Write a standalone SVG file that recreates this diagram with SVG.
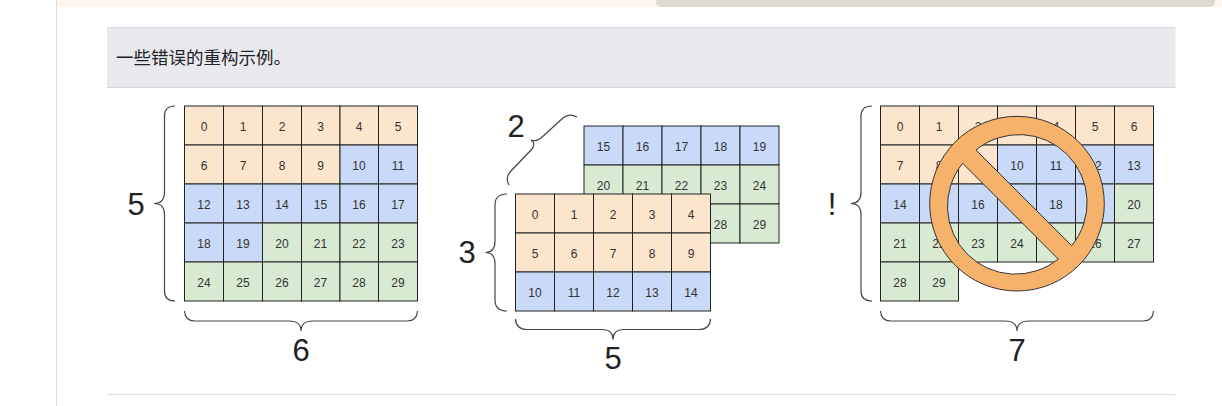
<svg xmlns="http://www.w3.org/2000/svg" width="1222" height="406" viewBox="0 0 1222 406">
<style>
.o{fill:#fce5cd}.b{fill:#c9daf8}.g{fill:#d9ead3}
rect.o,rect.b,rect.g{stroke:#222;stroke-width:1}
.n{font-family:"Liberation Sans",Arial,sans-serif;font-size:12px;fill:#333;text-anchor:middle}
.d{font-family:"Liberation Sans",Arial,sans-serif;font-size:31px;fill:#222;text-anchor:middle}
.br{fill:none;stroke:#444;stroke-width:1.2}
</style>
<rect width="1222" height="406" fill="#fff"/>
<g id="page">
<rect x="57" y="0" width="1165" height="7" fill="#fff5ec"/>
<rect x="656" y="-6" width="559" height="13" rx="5" fill="#dedad2"/>
<line x1="56.5" y1="0" x2="56.5" y2="406" stroke="#dcdcdc"/>
<rect x="107" y="27" width="1068.500" height="61" fill="#e8e9ed"/>
<line x1="107" y1="27.500" x2="1175.500" y2="27.500" stroke="#dcdde2"/>
<line x1="107" y1="87.500" x2="1175.500" y2="87.500" stroke="#d6d7dc"/>
<line x1="107" y1="394.500" x2="1175.500" y2="394.500" stroke="#dedede"/>
<text x="116" y="63.500" font-size="17.500" fill="#1f2329" font-family="'Noto Sans CJK SC',sans-serif">一些错误的重构示例。</text>
</g>
<g id="grid-5x6">
<rect class="o" x="184.500" y="106" width="39" height="39"/><rect class="o" x="223.500" y="106" width="39" height="39"/><rect class="o" x="262.500" y="106" width="39" height="39"/><rect class="o" x="301.500" y="106" width="38.500" height="39"/><rect class="o" x="340" y="106" width="38.500" height="39"/><rect class="o" x="378.500" y="106" width="39" height="39"/>
<rect class="o" x="184.500" y="145" width="39" height="39"/><rect class="o" x="223.500" y="145" width="39" height="39"/><rect class="o" x="262.500" y="145" width="39" height="39"/><rect class="o" x="301.500" y="145" width="38.500" height="39"/><rect class="b" x="340" y="145" width="38.500" height="39"/><rect class="b" x="378.500" y="145" width="39" height="39"/>
<rect class="b" x="184.500" y="184" width="39" height="39"/><rect class="b" x="223.500" y="184" width="39" height="39"/><rect class="b" x="262.500" y="184" width="39" height="39"/><rect class="b" x="301.500" y="184" width="38.500" height="39"/><rect class="b" x="340" y="184" width="38.500" height="39"/><rect class="b" x="378.500" y="184" width="39" height="39"/>
<rect class="b" x="184.500" y="223" width="39" height="39"/><rect class="b" x="223.500" y="223" width="39" height="39"/><rect class="g" x="262.500" y="223" width="39" height="39"/><rect class="g" x="301.500" y="223" width="38.500" height="39"/><rect class="g" x="340" y="223" width="38.500" height="39"/><rect class="g" x="378.500" y="223" width="39" height="39"/>
<rect class="g" x="184.500" y="262" width="39" height="39"/><rect class="g" x="223.500" y="262" width="39" height="39"/><rect class="g" x="262.500" y="262" width="39" height="39"/><rect class="g" x="301.500" y="262" width="38.500" height="39"/><rect class="g" x="340" y="262" width="38.500" height="39"/><rect class="g" x="378.500" y="262" width="39" height="39"/>
<text class="n" x="204" y="130.500">0</text><text class="n" x="243" y="130.500">1</text><text class="n" x="282" y="130.500">2</text><text class="n" x="320.500" y="130.500">3</text><text class="n" x="359" y="130.500">4</text><text class="n" x="398" y="130.500">5</text>
<text class="n" x="204" y="169.500">6</text><text class="n" x="243" y="169.500">7</text><text class="n" x="282" y="169.500">8</text><text class="n" x="320.500" y="169.500">9</text><text class="n" x="359" y="169.500">10</text><text class="n" x="398" y="169.500">11</text>
<text class="n" x="204" y="208.500">12</text><text class="n" x="243" y="208.500">13</text><text class="n" x="282" y="208.500">14</text><text class="n" x="320.500" y="208.500">15</text><text class="n" x="359" y="208.500">16</text><text class="n" x="398" y="208.500">17</text>
<text class="n" x="204" y="247.500">18</text><text class="n" x="243" y="247.500">19</text><text class="n" x="282" y="247.500">20</text><text class="n" x="320.500" y="247.500">21</text><text class="n" x="359" y="247.500">22</text><text class="n" x="398" y="247.500">23</text>
<text class="n" x="204" y="286.500">24</text><text class="n" x="243" y="286.500">25</text><text class="n" x="282" y="286.500">26</text><text class="n" x="320.500" y="286.500">27</text><text class="n" x="359" y="286.500">28</text><text class="n" x="398" y="286.500">29</text>
<path class="br" d="M175 106Q164.500 106 164.500 116V192Q164.500 203.500 154 203.500Q164.500 203.500 164.500 215V291Q164.500 301 175 301"/>
<path class="br" d="M184.500 311Q185 321 195 321H289Q301 321 301 331Q301 321 313 321H407Q417 321 417.500 311"/>
<text class="d" x="136" y="214.500">5</text>
<text class="d" x="301" y="360.500">6</text>
</g>
<g id="grid-2x3x5">
<rect class="b" x="584" y="126" width="39" height="39"/><rect class="b" x="623" y="126" width="39" height="39"/><rect class="b" x="662" y="126" width="39" height="39"/><rect class="b" x="701" y="126" width="39" height="39"/><rect class="b" x="740" y="126" width="39" height="39"/>
<rect class="g" x="584" y="165" width="39" height="39"/><rect class="g" x="623" y="165" width="39" height="39"/><rect class="g" x="662" y="165" width="39" height="39"/><rect class="g" x="701" y="165" width="39" height="39"/><rect class="g" x="740" y="165" width="39" height="39"/>
<rect class="g" x="701" y="204" width="39" height="39"/><rect class="g" x="740" y="204" width="39" height="39"/>
<text class="n" x="603.500" y="150.500">15</text><text class="n" x="642.500" y="150.500">16</text><text class="n" x="681.500" y="150.500">17</text><text class="n" x="720.500" y="150.500">18</text><text class="n" x="759.500" y="150.500">19</text>
<text class="n" x="603.500" y="189.500">20</text><text class="n" x="642.500" y="189.500">21</text><text class="n" x="681.500" y="189.500">22</text><text class="n" x="720.500" y="189.500">23</text><text class="n" x="759.500" y="189.500">24</text>
<text class="n" x="720.500" y="228.500">28</text><text class="n" x="759.500" y="228.500">29</text>
<rect class="o" x="515.500" y="194" width="39" height="39"/><rect class="o" x="554.500" y="194" width="39" height="39"/><rect class="o" x="593.500" y="194" width="39" height="39"/><rect class="o" x="632.500" y="194" width="39" height="39"/><rect class="o" x="671.500" y="194" width="39" height="39"/>
<rect class="o" x="515.500" y="233" width="39" height="39"/><rect class="o" x="554.500" y="233" width="39" height="39"/><rect class="o" x="593.500" y="233" width="39" height="39"/><rect class="o" x="632.500" y="233" width="39" height="39"/><rect class="o" x="671.500" y="233" width="39" height="39"/>
<rect class="b" x="515.500" y="272" width="39" height="39"/><rect class="b" x="554.500" y="272" width="39" height="39"/><rect class="b" x="593.500" y="272" width="39" height="39"/><rect class="b" x="632.500" y="272" width="39" height="39"/><rect class="b" x="671.500" y="272" width="39" height="39"/>
<text class="n" x="535" y="218.500">0</text><text class="n" x="574" y="218.500">1</text><text class="n" x="613" y="218.500">2</text><text class="n" x="652" y="218.500">3</text><text class="n" x="691" y="218.500">4</text>
<text class="n" x="535" y="257.500">5</text><text class="n" x="574" y="257.500">6</text><text class="n" x="613" y="257.500">7</text><text class="n" x="652" y="257.500">8</text><text class="n" x="691" y="257.500">9</text>
<text class="n" x="535" y="296.500">10</text><text class="n" x="574" y="296.500">11</text><text class="n" x="613" y="296.500">12</text><text class="n" x="652" y="296.500">13</text><text class="n" x="691" y="296.500">14</text>
<path class="br" d="M577 117Q569 113 563 118L541 138Q536 142 531 140Q536 143 532 149L510 172Q505 178 509 185"/>
<path class="br" d="M507 194Q495 194 495 205V241Q495 252.500 485.500 252.500Q495 252.500 495 264V300Q495 311 507 311"/>
<path class="br" d="M515.500 319Q516 329.500 527 329.500H602Q613 329.500 613 339.500Q613 329.500 624 329.500H699Q710 329.500 710.500 319"/>
<text class="d" x="516" y="136.500">2</text>
<text class="d" x="467" y="263">3</text>
<text class="d" x="613" y="369">5</text>
</g>
<g id="grid-invalid">
<rect class="o" x="880.500" y="106" width="39" height="39"/><rect class="o" x="919.500" y="106" width="39" height="39"/><rect class="o" x="958.500" y="106" width="39" height="39"/><rect class="o" x="997.500" y="106" width="39" height="39"/><rect class="o" x="1036.500" y="106" width="39" height="39"/><rect class="o" x="1075.500" y="106" width="39" height="39"/><rect class="o" x="1114.500" y="106" width="39" height="39"/>
<rect class="o" x="880.500" y="145" width="39" height="39"/><rect class="o" x="919.500" y="145" width="39" height="39"/><rect class="o" x="958.500" y="145" width="39" height="39"/><rect class="b" x="997.500" y="145" width="39" height="39"/><rect class="b" x="1036.500" y="145" width="39" height="39"/><rect class="b" x="1075.500" y="145" width="39" height="39"/><rect class="b" x="1114.500" y="145" width="39" height="39"/>
<rect class="b" x="880.500" y="184" width="39" height="39"/><rect class="b" x="919.500" y="184" width="39" height="39"/><rect class="b" x="958.500" y="184" width="39" height="39"/><rect class="b" x="997.500" y="184" width="39" height="39"/><rect class="b" x="1036.500" y="184" width="39" height="39"/><rect class="b" x="1075.500" y="184" width="39" height="39"/><rect class="g" x="1114.500" y="184" width="39" height="39"/>
<rect class="g" x="880.500" y="223" width="39" height="39"/><rect class="g" x="919.500" y="223" width="39" height="39"/><rect class="g" x="958.500" y="223" width="39" height="39"/><rect class="g" x="997.500" y="223" width="39" height="39"/><rect class="g" x="1036.500" y="223" width="39" height="39"/><rect class="g" x="1075.500" y="223" width="39" height="39"/><rect class="g" x="1114.500" y="223" width="39" height="39"/>
<rect class="g" x="880.500" y="262" width="39" height="39"/><rect class="g" x="919.500" y="262" width="39" height="39"/>
<text class="n" x="900" y="130.500">0</text><text class="n" x="939" y="130.500">1</text><text class="n" x="978" y="130.500">2</text><text class="n" x="1017" y="130.500">3</text><text class="n" x="1056" y="130.500">4</text><text class="n" x="1095" y="130.500">5</text><text class="n" x="1134" y="130.500">6</text>
<text class="n" x="900" y="169.500">7</text><text class="n" x="939" y="169.500">8</text><text class="n" x="978" y="169.500">9</text><text class="n" x="1017" y="169.500">10</text><text class="n" x="1056" y="169.500">11</text><text class="n" x="1095" y="169.500">12</text><text class="n" x="1134" y="169.500">13</text>
<text class="n" x="900" y="208.500">14</text><text class="n" x="939" y="208.500">15</text><text class="n" x="978" y="208.500">16</text><text class="n" x="1017" y="208.500">17</text><text class="n" x="1056" y="208.500">18</text><text class="n" x="1095" y="208.500">19</text><text class="n" x="1134" y="208.500">20</text>
<text class="n" x="900" y="247.500">21</text><text class="n" x="939" y="247.500">22</text><text class="n" x="978" y="247.500">23</text><text class="n" x="1017" y="247.500">24</text><text class="n" x="1056" y="247.500">25</text><text class="n" x="1095" y="247.500">26</text><text class="n" x="1134" y="247.500">27</text>
<text class="n" x="900" y="286.500">28</text><text class="n" x="939" y="286.500">29</text>
<path class="br" d="M872 106Q861 106 861 116V192Q861 203.500 851 203.500Q861 203.500 861 215V291Q861 301 872 301"/>
<path class="br" d="M880.500 311Q881 321 891 321H1005Q1017 321 1017 331Q1017 321 1029 321H1143Q1153 321 1153.500 311"/>
<text class="d" x="832" y="214.500">!</text>
<text class="d" x="1017" y="360.500">7</text>
</g>
<g id="prohibition-sign">
<path fill="#f6b26b" stroke="#333" stroke-width="1" fill-rule="evenodd" d="M929.700 203.700a87.300 87.300 0 1 0 174.600 0a87.300 87.300 0 1 0 -174.600 0ZM976 150A68 68 0 0 1 1071.700 245.700ZM962.700 163.300A68 68 0 0 0 1058.300 259Z"/>
</g>
</svg>
